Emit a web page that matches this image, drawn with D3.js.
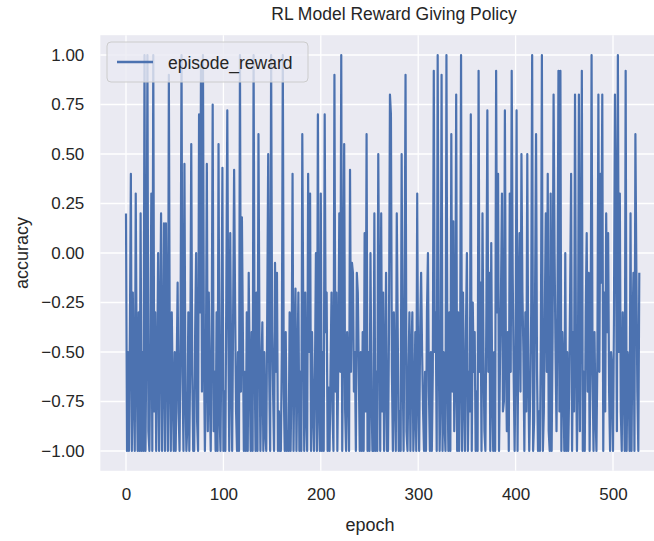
<!DOCTYPE html>
<html>
<head>
<meta charset="utf-8">
<script src="https://cdn.jsdelivr.net/npm/d3@7"></script>
<style>
  html, body { margin: 0; padding: 0; background: #ffffff; }
  svg { display: block; }
  text { font-family: "Liberation Sans", Arial, sans-serif; fill: #262626; }
</style>
</head>
<body>
<svg id="chart" width="654" height="541"></svg>
<script>
// ---- Data ----
const chartTitle = "RL Model Reward Giving Policy";
const seriesName = "episode_reward";
const xLabel = "epoch";
const yLabel = "accuracy";
const xTicks = [0, 100, 200, 300, 400, 500];
const yTicks = [-1.00, -0.75, -0.50, -0.25, 0.00, 0.25, 0.50, 0.75, 1.00];

const episodeReward = [
  0.2, -1, -0.5, -1, -0.4, 0.4, -1, -0.2, -0.7, -1, 0.3, -0.6, -1, -0.3, -1, 0.2, -1, -0.5, -1, 1.0,
  -1, -0.4, 1.0, -0.9, -1, -0.5, 0.3, -1, 1.0, -0.8, -0.3, -1, -0.6, 0.0, -1, -0.4, 0.2, -1, -0.6, 0.15, -1,
  0.15, -0.5, -1, 0.9, -0.6, -1, -0.3, -0.7, -1, -0.5, -1, -0.6, -0.15, -0.8, -1, -0.4, 1.0, -0.6, -1, 0.45,
  -0.7, -1, -0.87, -0.3, -1, -0.5, 0.55, -0.6, -1, -1, -0.4, 0.0, -0.85, -1, 0.7, -0.3, 0.95, -0.7, 1.0, -0.5,
  -1, -0.6, 0.45, -0.9, -0.2, -0.7, -1, -0.4, 0.75, -0.9,
  -0.6, -1, -0.3, -1, 0.55, -0.8, -1, -0.4, 0.43, -1, -0.7, -1, -0.2, 0.72, -0.35, -1, 0.1, -0.6, -1, -0.3,
  0.42, -0.25, -0.8, -1, -0.5, -1, 1.0, -0.7, 0.18, -0.4, -1, -0.6, -1, -0.3, -1, -0.1, -0.6, -1, -0.4, -1,
  1.0, -0.5, -1, -0.2, -1, 0.6, -0.4, -1, -0.6,
  -0.35, -1, -0.5, -0.9, -1, -0.3, 0.5, -0.6, -1, 1.0, -0.4, -0.7, -1, -0.05, -0.6, -0.1, -1, -0.8, -1, -1,
  -0.5, 1.0, -0.7, -1, -0.4, -1, -0.9, -1, -0.3, -1, -0.6, 0.4, -1, -0.5, -0.18, -1, -0.58, -0.2, -1, -0.6,
  -1, 0.6, -0.3, -1, -0.2, -0.8, -1, 0.4, -0.5,
  0.3, -1, -0.4, -0.78, -1, -0.6, 0.0, -1, 0.7, -0.78, -1, 0.3, -1, -0.5, -1, 0.7, -0.4, -0.2, -1, -0.68,
  -1, -0.6, -0.2, -0.8, -1, 0.9, -0.7, -0.2, -1, -0.5, 0.2, -0.6, 1.0, -1, -0.37, 0.55, -0.8, -1, -0.4, -0.6,
  -1, 0.42, -0.6, -0.05, -0.1, -0.7, -0.5, -1, -0.1,
  -0.2, -0.6, -1, -0.5, -1, -0.4, -1, 0.1, -0.8, 0.6, -1, -0.5, -1, 0.0, -0.7, -1, -1, 0.2, -1, -0.6,
  -1, 0.5, -0.3, -1, 0.2, -0.8, -0.2, -1, -0.6, -0.1, -1, -1, -0.4, 0.8, 0.7, -0.6, -1, -0.3, -0.7, -1,
  0.2, -0.4, -1, -0.8, -1, 0.5, -0.55, -1, -0.2, 0.9, -0.9, -1,
  -0.6, -0.3, -1, -0.5, -0.3, -1, -0.8, -0.4, -1, 0.3, -0.7, -1, -0.4, -0.1, -0.5, -0.8, -1, -0.6, -1, -0.3,
  0.0, -0.7, -1, -0.5, -1, -0.6, 0.92, -0.5, -0.3, -1, 1.0, -0.4, -1, -0.7, 0.9, -1, -0.5, -0.85, -1, 1.0,
  -0.6, -1, -0.3, -1, 0.6, -0.7,
  0.16, -0.9, -0.65, 0.8, -1, -0.3, -1, -0.6, 1.0, -1, -0.2, -0.7, -1, -0.4, 0.0, -1, -0.6, -0.8, 0.7, -1,
  -0.25, -0.6, -0.4, -1, -0.7, -1, 0.92, -0.6, -0.15, -1, 0.2, -0.5, -0.9, -1, -0.3, 0.72, -0.6, -0.1, -1, 0.05,
  -0.7, -1, -0.5, -1, 0.92, -0.3, 0.4, -1, -0.55, -0.2, 0.3, -0.8,
  -0.75, 0.72, -0.5, -0.9, -0.4, -1, 0.3, -0.6, 0.92, -0.1, -0.6, -1, -0.5, 0.72, -1, -0.3, 0.1, -0.7, 0.5, -0.2,
  -0.5, -1, -0.3, -0.8, 0.5, -0.6, -1, -0.7, -0.3, 1.0, -1, -0.85, -0.2, 0.6, -0.6, -1, -0.8, -1, -0.4, 1.0,
  -1, -0.8, -0.3, 0.2, -0.6, 0.4, -0.9,
  -1, 0.3, -1, -0.4, 0.8, 0.0, -0.5, -0.9, -0.3, 0.92, -0.8, 0.92, -1, -0.4, -0.6, -1, 0.0, -1, -0.5, -1,
  -0.7, -0.2, 0.4, -1, -0.4, -0.8, 0.8, -0.5, -1, -0.6, 0.8, -0.9, -0.2, 0.92, -1, -0.6, -1, -0.3, 0.1, -0.7,
  -0.1, -1, -0.5, 1.0, -0.6, -1, -0.4, -0.8, -1, -0.5,
  0.8, -0.6, 0.4, -0.15, 0.8, -1, -0.2, -0.8, 0.2, -0.4, 0.1, -0.7, -1, -0.5, -0.6, -1, -0.3, 0.8, 0.2, -0.9,
  1.0, -0.5, 0.3, -0.8, -1, -0.3, -0.6, -1, 0.92, -1, -0.5, -0.6, -1, 0.2, -1, -0.4, -0.1, -1, 0.6, -0.1,
  -0.7, -1, -0.1
];
const epochs = episodeReward.map((_, i) => i);

// ---- Layout ----
const svg = d3.select("#chart");
const lineColor = "#4C72B0";
const bgColor = "#EAEAF2";
const fontFam = '"Liberation Sans", Arial, sans-serif';

const n = epochs[epochs.length - 1];
const xPad = 0.05 * n;
const x = d3.scaleLinear()
  .domain([-xPad, n + xPad])
  .range([126 - xPad * 0.974, 126 + (n + xPad) * 0.974]);
const y = d3.scaleLinear()
  .domain([-1.1, 1.1])
  .range([470.8, 35.2]);

const [px0, px1] = x.range();
const [py1, py0] = y.range();

svg.append("rect")
  .attr("x", px0).attr("y", py0)
  .attr("width", px1 - px0).attr("height", py1 - py0)
  .attr("fill", bgColor);

// gridlines
const grid = svg.append("g");
grid.selectAll(".gx").data(xTicks).join("line")
  .attr("x1", d => x(d)).attr("x2", d => x(d))
  .attr("y1", py0).attr("y2", py1)
  .attr("stroke", "#ffffff").attr("stroke-width", 1.3);
grid.selectAll(".gy").data(yTicks).join("line")
  .attr("x1", px0).attr("x2", px1)
  .attr("y1", d => y(d)).attr("y2", d => y(d))
  .attr("stroke", "#ffffff").attr("stroke-width", 1.3);

// axes (labels only, seaborn darkgrid style)
const xAxis = d3.axisBottom(x).tickValues(xTicks).tickSize(0).tickPadding(0).tickFormat(d3.format("d"));
const yAxis = d3.axisLeft(y).tickValues(yTicks).tickSize(0).tickPadding(0).tickFormat(d => d3.format(".2f")(d).replace("-", "\u2212"));

const gx = svg.append("g").attr("transform", `translate(0, ${py1 + 17})`).call(xAxis);
gx.select(".domain").remove();
gx.selectAll("text").attr("font-size", 17).attr("fill", "#262626").attr("dy", "0.71em")
  .style("font-family", fontFam);

const gy = svg.append("g").attr("transform", `translate(${px0 - 16}, 0)`).call(yAxis);
gy.select(".domain").remove();
gy.selectAll("text").attr("font-size", 17).attr("fill", "#262626")
  .style("font-family", fontFam);

// line
const clipId = "plotclip";
svg.append("clipPath").attr("id", clipId).append("rect")
  .attr("x", px0).attr("y", py0).attr("width", px1 - px0).attr("height", py1 - py0);

const line = d3.line().x((d, i) => x(epochs[i])).y(d => y(d));
svg.append("path")
  .datum(episodeReward)
  .attr("clip-path", `url(#${clipId})`)
  .attr("d", line)
  .attr("fill", "none")
  .attr("stroke", lineColor)
  .attr("stroke-width", 2.2)
  .attr("stroke-linejoin", "round");

// title & axis labels
svg.append("text")
  .attr("x", 394).attr("y", 20)
  .attr("text-anchor", "middle").attr("font-size", 17.5)
  .text(chartTitle);

svg.append("text")
  .attr("x", 370).attr("y", 531)
  .attr("text-anchor", "middle").attr("font-size", 18)
  .text(xLabel);

svg.append("text")
  .attr("transform", `translate(28, 253) rotate(-90)`)
  .attr("text-anchor", "middle").attr("font-size", 18)
  .text(yLabel);

// legend
const lg = svg.append("g");
lg.append("rect")
  .attr("x", 107).attr("y", 42).attr("width", 201).attr("height", 40)
  .attr("rx", 4).attr("ry", 4)
  .attr("fill", bgColor).attr("fill-opacity", 0.8)
  .attr("stroke", "#cccccc").attr("stroke-width", 1);
lg.append("line")
  .attr("x1", 117).attr("x2", 153).attr("y1", 62).attr("y2", 62)
  .attr("stroke", lineColor).attr("stroke-width", 2.4);
lg.append("text")
  .attr("x", 168).attr("y", 68.5).attr("font-size", 17.5)
  .text(seriesName);
</script>
</body>
</html>
